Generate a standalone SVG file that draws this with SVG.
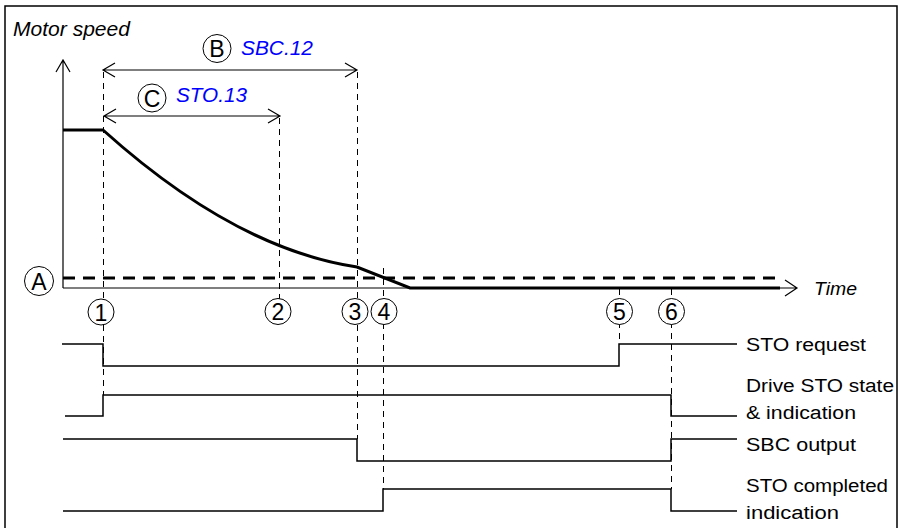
<svg xmlns="http://www.w3.org/2000/svg" width="904" height="528" viewBox="0 0 904 528">
<defs>
<style>
.frame{fill:none;stroke:#000;stroke-width:1.5}
.axis{fill:none;stroke:#000;stroke-width:1.2}
.dash{fill:none;stroke:#000;stroke-width:1;stroke-dasharray:6 5;shape-rendering:crispEdges}
.dashA{fill:none;stroke:#000;stroke-width:3;stroke-dasharray:12 8}
.sig{fill:none;stroke:#000;stroke-width:1.5}
.curve{fill:none;stroke:#000;stroke-width:3}
.circ{fill:#fff;stroke:#000;stroke-width:1}
.t{font-family:"Liberation Sans",Arial,sans-serif;fill:#000}
.lbl{font-size:18px}
.num{font-size:23px;text-anchor:middle}
.it{font-style:italic}
.blue{fill:#0000ff;font-size:20px;font-style:italic}
</style>
</defs>
<rect width="904" height="528" fill="#fff"/>
<path class="frame" d="M5,532 V6 H897 V532"/>

<g id="axes">
<path class="axis" d="M63,288 V60 M56,72 L63,60 L70,72"/>
<path class="axis" d="M63,288 H797 M785,280 L797,288 L785,296"/>
<text class="t it" x="13" y="36" font-size="19.5" textLength="117" lengthAdjust="spacingAndGlyphs">Motor speed</text>
<text class="t it" x="814" y="295" font-size="19" textLength="43" lengthAdjust="spacingAndGlyphs">Time</text>
</g>

<g id="connectors">
<path class="dash" d="M103.5,72 V395"/>
<path class="dash" d="M279.5,118 V300"/>
<path class="dash" d="M357.5,72 V439"/>
<path class="dash" d="M383.5,268 V489"/>
<path class="dash" d="M619.5,289 V344"/>
<path class="dash" d="M671.5,289 V489"/>
<path class="axis" d="M103,70 H357 M115,63 L103,70 L115,77 M345,63 L357,70 L345,77"/>
<path class="axis" d="M104,116 H280 M116,109 L104,116 L116,123 M268,109 L280,116 L268,123"/>
<path class="dashA" d="M63,278 H782"/>
</g>

<g id="speed-curve">
<path class="curve" d="M63,130 H103 C183,202 267,253.5 357,267 L410,288 H780"/>
</g>

<g id="marker-A"><circle class="circ" cx="39" cy="281" r="14.5"/><text class="t num" x="39" y="289.5">A</text></g>
<g id="marker-B"><circle class="circ" cx="217" cy="48.5" r="14"/><text class="t num" x="217" y="57">B</text>
<text class="t blue" x="241" y="55" textLength="72" lengthAdjust="spacingAndGlyphs">SBC.12</text></g>
<g id="marker-C"><circle class="circ" cx="152" cy="98" r="14"/><text class="t num" x="152" y="106.5">C</text>
<text class="t blue" x="176" y="102" textLength="71" lengthAdjust="spacingAndGlyphs">STO.13</text></g>

<g id="marker-1"><circle class="circ" cx="101" cy="312" r="13"/><text class="t num" x="101" y="320.5">1</text></g>
<g id="marker-2"><circle class="circ" cx="278" cy="311.5" r="13"/><text class="t num" x="278" y="320">2</text></g>
<g id="marker-3"><circle class="circ" cx="355" cy="311.5" r="13"/><text class="t num" x="355" y="320">3</text></g>
<g id="marker-4"><circle class="circ" cx="384" cy="311.5" r="13"/><text class="t num" x="384" y="320">4</text></g>
<g id="marker-5"><circle class="circ" cx="619.5" cy="311.5" r="13"/><text class="t num" x="619.5" y="320">5</text></g>
<g id="marker-6"><circle class="circ" cx="671.5" cy="311.5" r="13"/><text class="t num" x="671.5" y="320">6</text></g>

<g id="sig-sto-request">
<path class="sig" d="M62,344 H103 V366 H619 V344 H737"/>
<text class="t lbl" x="746" y="351" textLength="120" lengthAdjust="spacingAndGlyphs">STO request</text>
</g>
<g id="sig-drive-sto">
<path class="sig" d="M65,416 H103 V395 H671 V416 H737"/>
<text class="t lbl" x="746" y="392" textLength="148" lengthAdjust="spacingAndGlyphs">Drive STO state</text>
<text class="t lbl" x="746" y="419" textLength="110" lengthAdjust="spacingAndGlyphs">&amp; indication</text>
</g>
<g id="sig-sbc-output">
<path class="sig" d="M63,439 H357 V461 H671 V439 H737"/>
<text class="t lbl" x="746" y="451" textLength="110" lengthAdjust="spacingAndGlyphs">SBC output</text>
</g>
<g id="sig-sto-completed">
<path class="sig" d="M63,511 H383 V489 H671 V511 H737"/>
<text class="t lbl" x="746" y="492" textLength="142" lengthAdjust="spacingAndGlyphs">STO completed</text>
<text class="t lbl" x="746" y="519" textLength="93" lengthAdjust="spacingAndGlyphs">indication</text>
</g>
</svg>
